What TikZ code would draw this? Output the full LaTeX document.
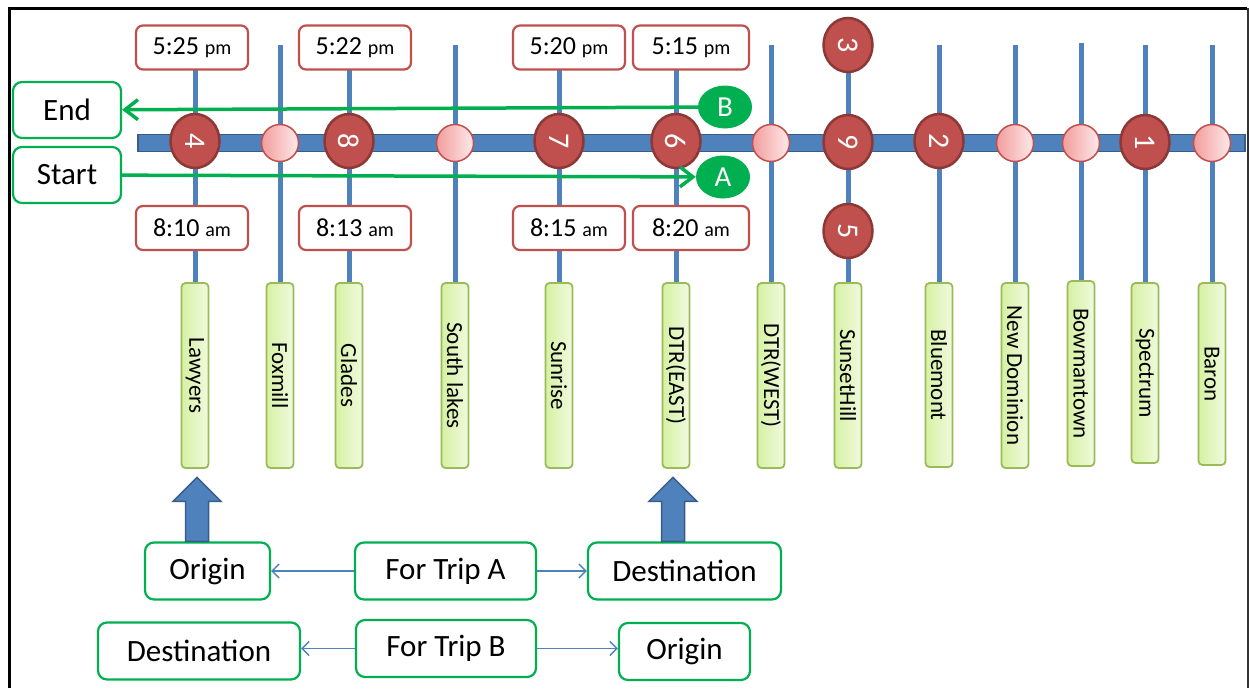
\documentclass[tikz,border=0pt]{standalone}
\usepackage{fontspec}
\setmainfont{Carlito}
\usetikzlibrary{arrows.meta,calc,shapes.geometric,backgrounds}

\definecolor{lineblue}{HTML}{4F81BD}
\definecolor{lineblueD}{HTML}{385D8A}
\definecolor{stopred}{HTML}{C0504D}
\definecolor{stopredD}{HTML}{8C3836}
\definecolor{tripgreen}{HTML}{00B050}
\definecolor{labelfill}{HTML}{D6F1A2}
\definecolor{labelfillL}{HTML}{F0FADF}
\definecolor{labelline}{HTML}{9BBB59}
\definecolor{pinkL}{HTML}{F29C9C}
\definecolor{pinkR}{HTML}{FFEAEA}

\tikzset{
  fs/.style={font=\fontsize{#1}{#1}\selectfont},
  timebox/.style={draw=stopred, line width=2.2pt, rounded corners=7pt, fill=white,
    minimum width=112pt, minimum height=44pt, inner sep=0pt, fs=26},
  labelbox/.style={draw=labelline, line width=1.8pt, rounded corners=4pt,
    left color=labelfill, right color=labelfillL,
    minimum width=27pt, minimum height=#1, inner sep=0pt},
  labelbox/.default=185pt,
  labeltext/.style={rotate=-90, inner sep=0pt, fs=23},
  redstop/.style={ellipse, draw=stopredD, line width=2.5pt, fill=stopred, rotate=-90,
    minimum width=54pt, minimum height=49pt, inner sep=0pt, text=white, fs=30},
  pinkstop/.style={circle, draw=stopred, line width=1.5pt, left color=pinkL, right color=pinkR,
    minimum size=37pt, inner sep=0pt},
  tripmark/.style={ellipse, fill=tripgreen, minimum width=54pt, minimum height=43pt,
    inner sep=0pt, text=white, fs=29},
  tripbox/.style={draw=tripgreen, line width=2.2pt, rounded corners=9pt, fill=white,
    inner sep=0pt, fs=31},
  vline/.style={draw=lineblue, line width=5pt},
  triparrow/.style={draw=tripgreen, line width=3.5pt, -{Straight Barb[length=13pt,width=20pt,line width=3.5pt]}},
  notearrow/.style={draw=lineblue, line width=1.4pt, -{Straight Barb[length=7pt,width=14pt]}},
  bigarrow/.style={fill=lineblue, draw=lineblueD, line width=1.5pt, line join=miter},
}
% station name box: #1 name, #2 position, #3 height, #4 text
\newcommand\stationbox[4]{%
  \node[labelbox=#3] (#1) at #2 {};
  \node[labeltext] (#1-t) at (#1) {#4};}

\begin{document}
\begin{tikzpicture}[x=1pt,y=-1pt]
\useasboundingbox (0,0) rectangle (1249,688);

% station labels
\stationbox{lawyers}{(195,375.5)}{185pt}{Lawyers}
\stationbox{foxmill}{(280,375.5)}{185pt}{Foxmill}
\stationbox{glades}{(349,375.5)}{185pt}{Glades}
\stationbox{southl}{(455,375.5)}{185pt}{South lakes}
\stationbox{sunrise}{(559,375.5)}{185pt}{Sunrise}
\stationbox{dtreast}{(676,375.5)}{185pt}{DTR(EAST)}
\stationbox{dtrwest}{(771,375.5)}{185pt}{DTR(WEST)}
\stationbox{sunset}{(848,375.5)}{185pt}{SunsetHill}
\stationbox{bluemont}{(939,375)}{184pt}{Bluemont}
\stationbox{newdom}{(1015,375.5)}{185pt}{New Dominion}
\stationbox{bowman}{(1081,373.5)}{185pt}{Bowmantown}
\stationbox{spectrum}{(1145,373)}{180pt}{Spectrum}
\stationbox{baron}{(1212,374)}{182pt}{Baron}

% time boxes
\node[timebox] (t525) at (192,47.5) {5:25 {\fontsize{20}{20}\selectfont pm}};
\node[timebox] (t522) at (355,47.5) {5:22 {\fontsize{20}{20}\selectfont pm}};
\node[timebox] (t520) at (569,47.5) {5:20 {\fontsize{20}{20}\selectfont pm}};
\node[timebox, minimum width=116pt] (t515) at (691,47.5) {5:15 {\fontsize{20}{20}\selectfont pm}};
\node[timebox] (t810) at (192,228) {8:10 {\fontsize{20}{20}\selectfont am}};
\node[timebox] (t813) at (355,228) {8:13 {\fontsize{20}{20}\selectfont am}};
\node[timebox] (t815) at (569,228) {8:15 {\fontsize{20}{20}\selectfont am}};
\node[timebox, minimum width=116pt] (t820) at (691,228) {8:20 {\fontsize{20}{20}\selectfont am}};

% line tops of the plain columns
\coordinate (c-fox)  at (280,45);
\coordinate (c-sl)   at (455,45);
\coordinate (c-dw)   at (771,45);
\coordinate (c-blu)  at (939,45);
\coordinate (c-nd)   at (1015,45);
\coordinate (c-bow)  at (1081,43);
\coordinate (c-spe)  at (1145,45);
\coordinate (c-bar)  at (1212,45);

% trunk line
\node[draw=lineblueD, fill=lineblue, line width=1.5pt, minimum width=1107pt,
      minimum height=17pt, inner sep=0pt] (trunk) at (691.5,143) {};

% stops on the trunk
\node[redstop]  (s4) at (195,141) {4};
\node[pinkstop] (p1) at (280,143) {};
\node[redstop]  (s8) at (349,141) {8};
\node[pinkstop] (p2) at (455,143) {};
\node[redstop]  (s7) at (559,141) {7};
\node[redstop]  (s6) at (676,141) {6};
\node[pinkstop] (p3) at (771,143) {};
\node[redstop]  (s9) at (848,142) {9};
\node[redstop]  (s3) at (848,45) {3};
\node[redstop]  (s5) at (848,231) {5};
\node[redstop]  (s2) at (939,141) {2};
\node[pinkstop] (p4) at (1015,143) {};
\node[pinkstop] (p5) at (1081,143) {};
\node[redstop]  (s1) at (1145,142) {1};
\node[pinkstop] (p6) at (1212,143) {};

% page, frame and column lines, behind everything
\begin{scope}[on background layer]
  \fill[white] (0,0) rectangle (1249,688);
  \draw[black, line width=3pt] (9,688) -- (9,8.5) -- (1247,8.5);
  \draw[black!80, line width=2pt] (1248,8) -- (1248,688);
  \draw[vline] (t525 -| lawyers) -- (lawyers);
  \draw[vline] (c-fox) -- (foxmill);
  \draw[vline] (t522 -| glades) -- (glades);
  \draw[vline] (c-sl) -- (southl);
  \draw[vline] (t520 -| sunrise) -- (sunrise);
  \draw[vline] (t515 -| dtreast) -- (dtreast);
  \draw[vline] (c-dw) -- (dtrwest);
  \draw[vline] (s3) -- (sunset);
  \draw[vline] (c-blu) -- (bluemont);
  \draw[vline] (c-nd) -- (newdom);
  \draw[vline] (c-bow) -- (bowman);
  \draw[vline] (c-spe) -- (spectrum);
  \draw[vline] (c-bar) -- (baron);
\end{scope}

% trip ends
\node[tripbox, minimum width=108pt, minimum height=56pt] (endb)   at (67,110) {End};
\node[tripbox, minimum width=108pt, minimum height=56pt] (startb) at (67,175) {Start};
\node[tripmark] (tb) at (725,107) {B};
\node[tripmark] (ta) at (723,177) {A};
\draw[triparrow] (tb) -- (endb);
\draw[triparrow] (startb) -- (ta);

% legend
\node[tripbox, minimum width=125pt, minimum height=57pt] (origA)  at (207.5,571) {Origin};
\node[tripbox, minimum width=181pt, minimum height=57pt] (tripA)  at (445.5,571) {For Trip A};
\node[tripbox, minimum width=193pt, minimum height=57pt] (destA)  at (684.5,571) {Destination};
\node[tripbox, minimum width=202pt, minimum height=57pt] (destB)  at (199,651) {Destination};
\node[tripbox, minimum width=180pt, minimum height=57pt] (tripB)  at (446,648.5) {For Trip B};
\node[tripbox, minimum width=131pt, minimum height=57pt] (origB)  at (684.5,651.5) {Origin};

\draw[notearrow] (tripA.west) -- (origA.east |- tripA.west);
\draw[notearrow] (tripA.east) -- (destA.west |- tripA.east);
\draw[notearrow] (tripB.west) -- (destB.east |- tripB.west);
\draw[notearrow] (tripB.east) -- (origB.west |- tripB.east);

% block arrows pointing at the origin and destination stations
\draw[bigarrow] (origA.north -| lawyers) ++(-9.5,0) -- ++(0,-40) -- ++(-12.5,0)
  -- ++(24,-24) -- ++(24,24) -- ++(-12.5,0) -- ++(0,40) -- cycle;
\draw[bigarrow] (destA.north -| dtreast) ++(-14.5,0) -- ++(0,-40) -- ++(-12.5,0)
  -- ++(24,-24) -- ++(24,24) -- ++(-12.5,0) -- ++(0,40) -- cycle;
\end{tikzpicture}
\end{document}
